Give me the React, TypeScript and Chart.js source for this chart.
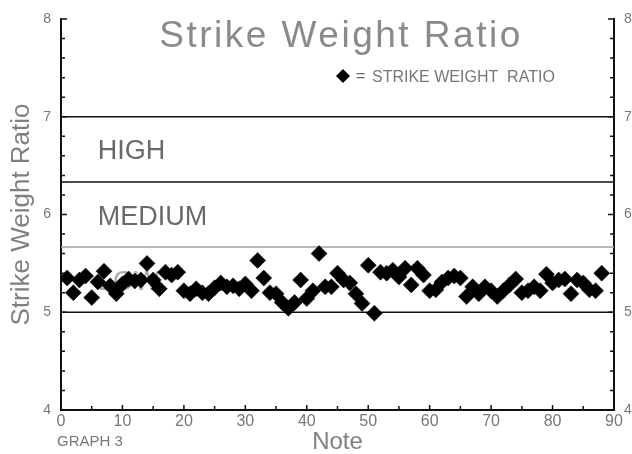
import React, { useEffect, useRef } from "react";
import { Chart, registerables } from "chart.js";

Chart.register(...registerables);

const NOTES = [
  1, 2, 3, 4, 5, 6, 7, 8, 9, 10, 11, 12, 13, 14, 15, 16, 17, 18, 19, 20, 21, 22,
  23, 24, 25, 26, 27, 28, 29, 30, 31, 32, 33, 34, 35, 36, 37, 38, 39, 40, 41, 42,
  43, 44, 45, 46, 47, 48, 49, 50, 51, 52, 53, 54, 55, 56, 57, 58, 59, 60, 61, 62,
  63, 64, 65, 66, 67, 68, 69, 70, 71, 72, 73, 74, 75, 76, 77, 78, 79, 80, 81, 82,
  83, 84, 85, 86, 87, 88,
];

const RATIOS = [
  5.35, 5.2, 5.33, 5.37, 5.15, 5.31, 5.42, 5.27, 5.19, 5.29, 5.34, 5.32, 5.33,
  5.5, 5.33, 5.24, 5.41, 5.38, 5.41, 5.22, 5.19, 5.24, 5.2, 5.19, 5.25, 5.3,
  5.26, 5.27, 5.24, 5.29, 5.22, 5.53, 5.35, 5.2, 5.19, 5.1, 5.04, 5.1, 5.33,
  5.14, 5.22, 5.6, 5.26, 5.26, 5.4, 5.33, 5.3, 5.19, 5.09, 5.48, 4.99, 5.41,
  5.4, 5.43, 5.36, 5.45, 5.28, 5.45, 5.38, 5.22, 5.23, 5.31, 5.35, 5.37, 5.35,
  5.16, 5.26, 5.19, 5.26, 5.22, 5.16, 5.22, 5.28, 5.34, 5.2, 5.22, 5.26, 5.22,
  5.39, 5.3, 5.33, 5.34, 5.19, 5.33, 5.3, 5.23, 5.22, 5.4,
];

const ZONE_BOUNDS = [5, 5.667, 6.333, 7];
const ZONE_LINE_COLORS = ["#111111", "#a0a0a0", "#111111", "#111111"];
const ZONE_LABELS = ["HIGH", "MEDIUM", "LOW"];
const ZONE_LABEL_VALUES = [6.667, 6.0, 5.333];
const ZONE_LABEL_COLORS = ["#6a6a6a", "#6a6a6a", "#aaaaaa"];

const X_MAJOR = [0, 10, 20, 30, 40, 50, 60, 70, 80, 90];
const X_MINOR = [5, 15, 25, 35, 45, 55, 65, 75, 85];
const Y_MAJOR = [4, 5, 6, 7, 8];
const Y_MINOR = [
  4.2, 4.4, 4.6, 4.8, 5.2, 5.4, 5.6, 5.8, 6.2, 6.4, 6.6, 6.8, 7.2, 7.4, 7.6, 7.8,
];

const TITLE = "Strike Weight Ratio";
const Y_TITLE = "Strike Weight Ratio";
const X_TITLE = "Note";
const LEGEND_EQ = "=";
const LEGEND_TEXT = "STRIKE WEIGHT  RATIO";
const FOOTNOTE = "GRAPH 3";

const FONT = "'Liberation Sans', Arial, sans-serif";

const decorPlugin = {
  id: "decor",
  beforeDatasetsDraw(chart: any) {
    const { ctx, scales } = chart;
    const x = scales.x;
    const y = scales.y;
    ctx.save();
    ctx.font = `27px ${FONT}`;
    ctx.textBaseline = "alphabetic";
    ctx.textAlign = "left";
    ZONE_LABELS.forEach((t, i) => {
      ctx.fillStyle = ZONE_LABEL_COLORS[i];
      ctx.fillText(t, x.getPixelForValue(6), y.getPixelForValue(ZONE_LABEL_VALUES[i]) + 10);
    });
    ctx.restore();
  },
  afterDraw(chart: any) {
    const { ctx, scales, chartArea } = chart;
    const x = scales.x;
    const y = scales.y;
    const L = chartArea.left;
    const R = chartArea.right;
    const B = chartArea.bottom;
    ctx.save();
    ctx.strokeStyle = "#111";
    ctx.lineWidth = 1.5;
    ctx.beginPath();
    Y_MAJOR.forEach((v) => {
      const py = y.getPixelForValue(v);
      ctx.moveTo(L, py);
      ctx.lineTo(L + 6, py);
      ctx.moveTo(R, py);
      ctx.lineTo(R - 6, py);
    });
    Y_MINOR.forEach((v) => {
      const py = y.getPixelForValue(v);
      ctx.moveTo(L, py);
      ctx.lineTo(L + 4, py);
      ctx.moveTo(R, py);
      ctx.lineTo(R - 4, py);
    });
    X_MAJOR.forEach((v) => {
      const px = x.getPixelForValue(v);
      ctx.moveTo(px, B);
      ctx.lineTo(px, B - 5);
    });
    X_MINOR.forEach((v) => {
      const px = x.getPixelForValue(v);
      ctx.moveTo(px, B);
      ctx.lineTo(px, B - 4);
    });
    ctx.stroke();

    // title
    ctx.fillStyle = "#8a8a8a";
    ctx.font = `37px ${FONT}`;
    (ctx as any).letterSpacing = "2.5px";
    ctx.textAlign = "center";
    ctx.textBaseline = "alphabetic";
    ctx.fillText(TITLE, 341, 47);

    // legend
    (ctx as any).letterSpacing = "0px";
    ctx.fillStyle = "#000";
    ctx.beginPath();
    const cx = 343;
    const cy = 76;
    ctx.moveTo(cx - 7, cy);
    ctx.lineTo(cx, cy - 7);
    ctx.lineTo(cx + 7, cy);
    ctx.lineTo(cx, cy + 7);
    ctx.closePath();
    ctx.fill();
    ctx.fillStyle = "#666";
    ctx.font = `16px ${FONT}`;
    ctx.textAlign = "left";
    ctx.fillText(LEGEND_EQ, 356, 81);
    ctx.fillStyle = "#777";
    ctx.fillText(LEGEND_TEXT, 372, 82);

    // footnote
    ctx.fillStyle = "#777";
    ctx.font = `15px ${FONT}`;
    ctx.fillText(FOOTNOTE, 57, 446);
    ctx.restore();
  },
};

export default function App() {
  const ref = useRef<HTMLCanvasElement | null>(null);

  useEffect(() => {
    if (!ref.current) return;
    const zoneSets = ZONE_BOUNDS.map((v, i) => ({
      type: "line" as const,
      data: [
        { x: 0, y: v },
        { x: 90, y: v },
      ],
      borderColor: ZONE_LINE_COLORS[i],
      borderWidth: 1.5,
      pointRadius: 0,
      fill: false,
      order: 2,
    }));
    const chart = new Chart(ref.current, {
      type: "scatter",
      data: {
        datasets: [
          {
            label: "STRIKE WEIGHT RATIO",
            data: NOTES.map((n, i) => ({ x: n, y: RATIOS[i] })),
            pointStyle: "rectRot",
            pointRadius: 8,
            backgroundColor: "#000",
            borderColor: "#000",
            borderWidth: 0.5,
            order: 1,
          },
          ...zoneSets,
        ] as any,
      },
      options: {
        responsive: false,
        devicePixelRatio: 1,
        animation: false,
        layout: { padding: { top: 19, left: 0, right: 0, bottom: 0 } },
        plugins: {
          legend: { display: false },
          title: { display: false },
          tooltip: { enabled: false },
        },
        scales: {
          x: {
            type: "linear",
            min: 0,
            max: 90,
            ticks: {
              stepSize: 10,
              color: "#777",
              font: { family: FONT, size: 16 },
              padding: 2,
              maxRotation: 0,
              autoSkip: false,
            },
            grid: { display: false, drawTicks: false },
            border: { display: true, color: "#111", width: 2 },
            title: {
              display: true,
              text: X_TITLE,
              color: "#808080",
              font: { family: FONT, size: 24, lineHeight: 1 },
              padding: { top: 0, bottom: 0 },
            },
            afterFit: (s: any) => {
              s.height = 44;
            },
          },
          y: {
            type: "linear",
            position: "left",
            min: 4,
            max: 8,
            ticks: {
              stepSize: 1,
              color: "#777",
              font: { family: FONT, size: 14 },
              padding: 10,
            },
            grid: { display: false, drawTicks: false },
            border: { display: true, color: "#111", width: 2 },
            title: {
              display: true,
              text: Y_TITLE,
              color: "#808080",
              font: { family: FONT, size: 26, lineHeight: 1.2 },
              padding: { top: 6, bottom: 0 },
            },
            afterFit: (s: any) => {
              s.width = 61;
            },
          },
          y2: {
            type: "linear",
            position: "right",
            display: true,
            min: 4,
            max: 8,
            ticks: {
              stepSize: 1,
              color: "#777",
              font: { family: FONT, size: 14 },
              padding: 10,
            },
            grid: { display: false, drawTicks: false },
            border: { display: true, color: "#111", width: 2 },
            afterFit: (s: any) => {
              s.width = 18;
            },
          },
        },
      } as any,
      plugins: [decorPlugin],
    });
    return () => chart.destroy();
  }, []);

  return (
    <div
      style={{
        position: "absolute",
        left: 0,
        top: 0,
        width: 632,
        height: 454,
        background: "#fff",
      }}
    >
      <canvas ref={ref} width={632} height={454} style={{ display: "block" }} />
    </div>
  );
}
